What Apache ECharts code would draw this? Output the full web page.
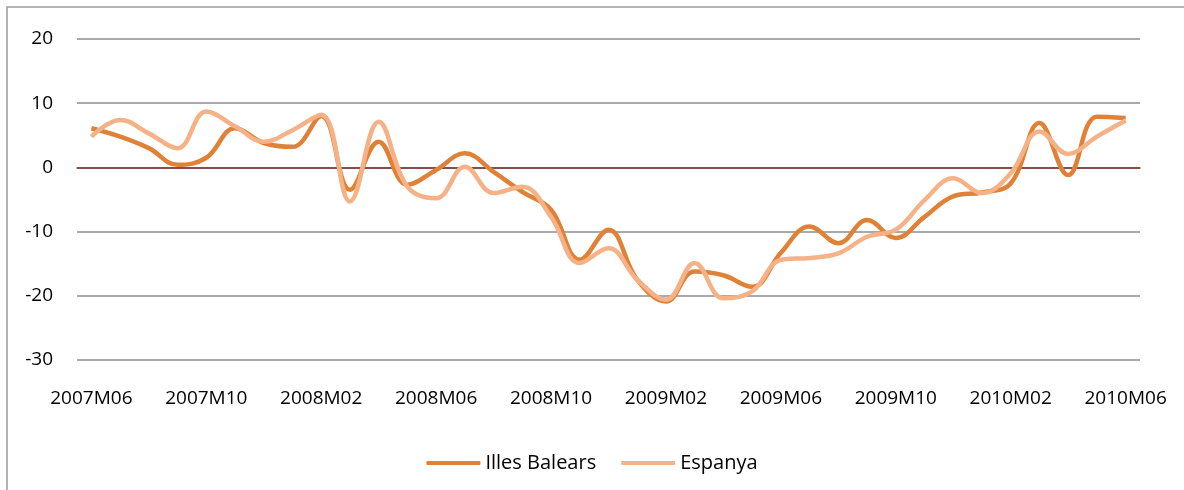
<!DOCTYPE html>
<html><head><meta charset="utf-8">
<script src="https://cdn.jsdelivr.net/npm/echarts@6/dist/echarts.min.js"></script>
<style>html,body{margin:0;padding:0;background:#fff}#c{width:1184px;height:490px}</style>
</head><body><div id="c"></div>
<script>
const categories = ['2007M06','2007M07','2007M08','2007M09','2007M10','2007M11','2007M12','2008M01','2008M02','2008M03','2008M04','2008M05','2008M06','2008M07','2008M08','2008M09','2008M10','2008M11','2008M12','2009M01','2009M02','2009M03','2009M04','2009M05','2009M06','2009M07','2009M08','2009M09','2009M10','2009M11','2009M12','2010M01','2010M02','2010M03','2010M04','2010M05','2010M06'];
const illesBalears = [6.1,4.8,3.0,0.4,1.5,6.1,3.8,3.2,8.0,-3.5,4.0,-2.7,-0.4,2.2,-0.7,-3.8,-6.6,-14.4,-9.7,-17.5,-20.9,-16.2,-16.8,-18.6,-13.3,-9.2,-11.8,-8.2,-11.0,-7.7,-4.5,-3.9,-2.5,6.9,-1.2,7.9,7.7];
const espanya = [4.8,7.4,5.3,3.0,8.7,6.4,4.0,5.8,8.2,-5.3,7.1,-3.0,-4.8,0.1,-4.0,-3.0,-7.7,-14.9,-12.6,-17.5,-20.6,-14.9,-20.4,-19.3,-14.4,-14.1,-13.4,-10.8,-9.7,-5.1,-1.7,-4.0,-0.9,5.6,2.1,4.8,7.3];
const seriesNames = ['Illes Balears','Espanya'];
const font = 'Open Sans, Liberation Sans, sans-serif';
const chart = echarts.init(document.getElementById('c'));
chart.setOption({
  animation:false,
  graphic:[{type:'rect',shape:{x:7,y:7,width:1180,height:500},style:{fill:'none',stroke:'#9a9a9a',lineWidth:1.5},silent:true}],
  grid:{left:77,right:44,top:39,bottom:130},
  legend:{bottom:12,left:'center',itemWidth:54,itemHeight:4,itemGap:25,
    textStyle:{fontFamily:font,fontSize:20,color:'#000'},
    data:seriesNames.map(n=>({name:n,icon:'roundRect'}))},
  xAxis:{type:'category',data:categories,boundaryGap:true,
    axisLine:{onZero:true,lineStyle:{color:'#7b2f2f',width:1.5}},
    axisTick:{show:false},
    axisLabel:{interval:3,margin:29,fontFamily:font,fontSize:19,color:'#000'}},
  yAxis:{type:'value',min:-30,max:20,interval:10,
    axisLine:{show:false},axisTick:{show:false},
    splitLine:{lineStyle:{color:'#8c8c8c',width:1.5}},
    axisLabel:{margin:24,fontFamily:font,fontSize:19,color:'#000'}},
  series:[
    {name:seriesNames[0],type:'line',data:illesBalears,smooth:0.4,symbol:'none',
      lineStyle:{color:'#df8237',width:4.5},itemStyle:{color:'#df8237'},z:3},
    {name:seriesNames[1],type:'line',data:espanya,smooth:0.4,symbol:'none',
      lineStyle:{color:'#f6b287',width:4.5},itemStyle:{color:'#f6b287'},z:4}
  ]
});
</script></body></html>
